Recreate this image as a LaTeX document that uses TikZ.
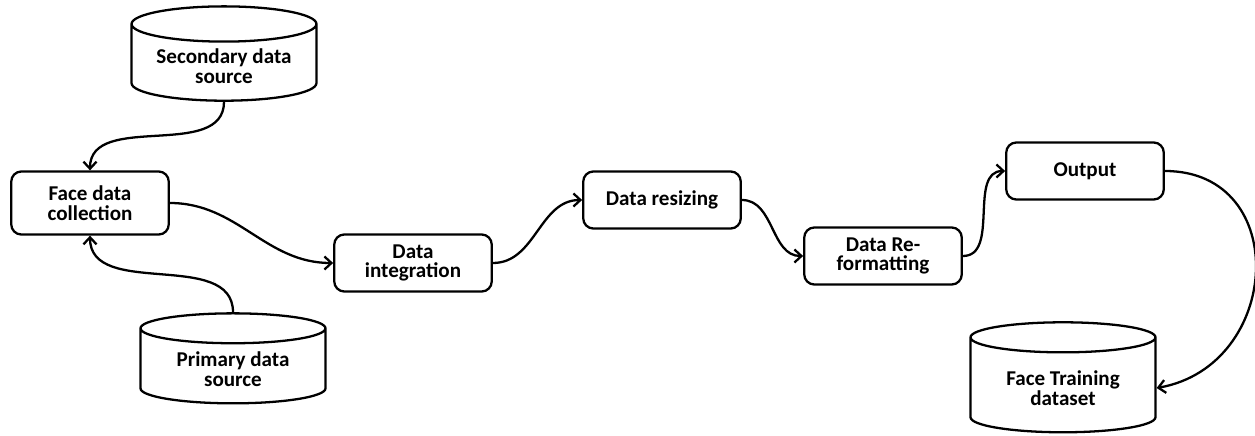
\documentclass[tikz,border=0pt]{standalone}
\usepackage{fontspec}
\setmainfont{Carlito}
\usepackage{tikz}
\usetikzlibrary{shapes.geometric, positioning, arrows.meta}

\begin{document}
\begin{tikzpicture}[x=0.02cm, y=-0.02cm,
    every node/.style={font=\fontsize{12}{11.3}\selectfont\bfseries, align=center},
    proc/.style={draw, line width=1.3pt, rounded corners=0.2cm, minimum width=3.15cm, minimum height=1.14cm},
    store/.style={draw, line width=1.3pt, cylinder, shape border rotate=90, aspect=0.24, minimum width=3.7cm, minimum height=1.8cm},
    flow/.style={line width=1.3pt, -{Straight Barb[length=1.4mm, width=2.6mm]}}]

    \useasboundingbox (0, 0) rectangle (1255, 436);

    % Data sources
    \node[store] (second) at (224, 66) {Secondary data\\source};
    \node[store] (prim) at (233, 369) {Primary data\\source};

    % Processing steps
    \node[proc, minimum height=1.26cm] (collect) at (90, 203) {Face data\\collection};
    \node[proc] (integ) at (413, 263) {Data\\integration};
    \node[proc] (resize) at (662, 200) {Data resizing};
    \node[proc] (reform) at (883, 256) {Data Re-\\formatting};
    \node[proc] (output) at (1085, 171) {Output};

    % Training set
    \node[store, minimum height=2.2cm] (train) at (1063, 388) {Face Training\\dataset};

    % Flows
    \draw[flow] (second.south) to[out=-90, in=90] (collect.north);
    \draw[flow] (prim.north) to[out=90, in=-90] (collect.south);
    \draw[flow] (collect.east) to[out=0, in=180] (integ.west);
    \draw[flow] (integ.east) to[out=0, in=180] (resize.west);
    \draw[flow] (resize.east) to[out=0, in=180] (reform.west);
    \draw[flow] (reform.east) to[out=0, in=180] (output.west);
    \draw[flow] (output.east) to[out=0, in=10, looseness=1.5] (train.east);
\end{tikzpicture}
\end{document}
